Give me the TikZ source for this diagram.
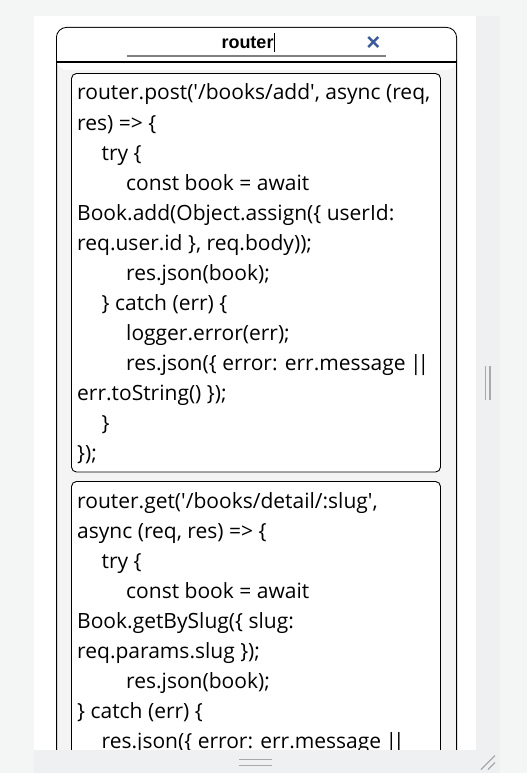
\documentclass[tikz,border=0pt]{standalone}
\usepackage{fontspec}
\setmainfont{Open Sans}
\newfontfamily\headfont{Liberation Sans}
\usetikzlibrary{positioning}
\definecolor{pagegray}{HTML}{F4F5F5}
\definecolor{bargray}{HTML}{EFF0F2}
\definecolor{listgray}{HTML}{F4F4F4}
\definecolor{gripgray}{HTML}{A9A9A9}
\definecolor{lineblue}{HTML}{3B5A9A}
\newcommand{\squote}{\textquotesingle}
\newcommand{\orbars}{\kern-1pt|\kern-4pt|}

\begin{document}
\begin{tikzpicture}[x=1pt,y=-1pt,
    codeline/.style={anchor=base west,inner sep=0pt,text=black,font=\fontsize{21}{24}\selectfont},
    card/.style={draw=black,fill=white,rounded corners=5pt,line width=0.9pt},
    grip/.style={draw=gripgray,line width=1.6pt}]
    \useasboundingbox (0,0) rectangle (527,773);
    % Page and the white panel
    \fill[pagegray] (0,0) rectangle (527,773);
    \fill[white] (34,16) rectangle (476,750);
    \fill[bargray] (476,16) rectangle (500,750);
    % Outer box with the search header
    \draw[fill=listgray,line width=1pt,rounded corners=10pt] (56.5,27.5) rectangle (456.5,800);
    \fill[white,rounded corners=10pt] (57,28) rectangle (456,70);
    \fill[white] (57,50) rectangle (456,62);
    \draw[line width=2pt] (56.5,62.5) -- (456.5,62.5);
    \coordinate (lineL) at (127,56.5);
    \coordinate (lineR) at (386,56.5);
    \draw[gray,line width=2pt] (lineL) -- (lineR);
    \node[anchor=base,inner sep=0pt,font=\headfont\fontsize{18}{20}\bfseries] (query) at (247.5,49) {router};
    \draw[line width=0.7pt] ([xshift=1pt]query.base east) ++(0,3) -- ++(0,-19);
    \node[text=lineblue,inner sep=0pt,font=\headfont\fontsize{24}{24}\bfseries] (clear) at (373.5,44) {×};
    % First result card
    \draw[card] (71.5,73.5) rectangle (440.5,472);
    \node[codeline] (a0) at (77,100) {router.post(\squote/books/add\squote, async (req,};
    \node[codeline] (a1) at (77,130) {res) => \{};
    \node[codeline] (a2) at (101.5,160) {try \{};
    \node[codeline] (a3) at (126,190) {const book = await};
    \node[codeline] (a4) at (77,220) {Book.add(Object.assign(\{ userId:};
    \node[codeline] (a5) at (77,250) {req.user.id \}, req.body));};
    \node[codeline] (a6) at (126,280) {res.json(book);};
    \node[codeline] (a7) at (101.5,310) {\} catch (err) \{};
    \node[codeline] (a8) at (126,340) {logger.error(err);};
    \node[codeline] (a9) at (126,370) {res.json(\{ error: err.message \orbars};
    \node[codeline] (a10) at (77,400) {err.toString() \});};
    \node[codeline] (a11) at (101.5,430) {\}};
    \node[codeline] (a12) at (77,460) {\});};
    % Second result card, cut off by the bottom bar
    \draw[card] (71.5,481.5) rectangle (440.5,800);
    \node[codeline] (b0) at (77,508) {router.get(\squote/books/detail/:slug\squote,};
    \node[codeline] (b1) at (77,538) {async (req, res) => \{};
    \node[codeline] (b2) at (101.5,568) {try \{};
    \node[codeline] (b3) at (126,598) {const book = await};
    \node[codeline] (b4) at (77,628) {Book.getBySlug(\{ slug:};
    \node[codeline] (b5) at (77,658) {req.params.slug \});};
    \node[codeline] (b6) at (126,688) {res.json(book);};
    \node[codeline] (b7) at (77,718) {\} catch (err) \{};
    \node[codeline] (b8) at (101.5,748) {res.json(\{ error: err.message \orbars};
    % Bottom bar and right scroll strip with their handles
    \fill[bargray] (34,750) rectangle (500,773);
    \fill[pagegray] (0,750) rectangle (34,773);
    \fill[pagegray] (500,0) rectangle (527,773);
    \draw[grip] (239,759.5) -- (272,759.5);
    \draw[grip] (239,765.5) -- (272,765.5);
    \draw[grip] (485.3,366) -- (485.3,400);
    \draw[grip] (489.7,366) -- (489.7,400);
    \draw[grip,line width=1.3pt] (481,769.5) -- (495,755.5);
    \draw[grip,line width=1.3pt] (488,769.5) -- (495,762.5);
\end{tikzpicture}
\end{document}
